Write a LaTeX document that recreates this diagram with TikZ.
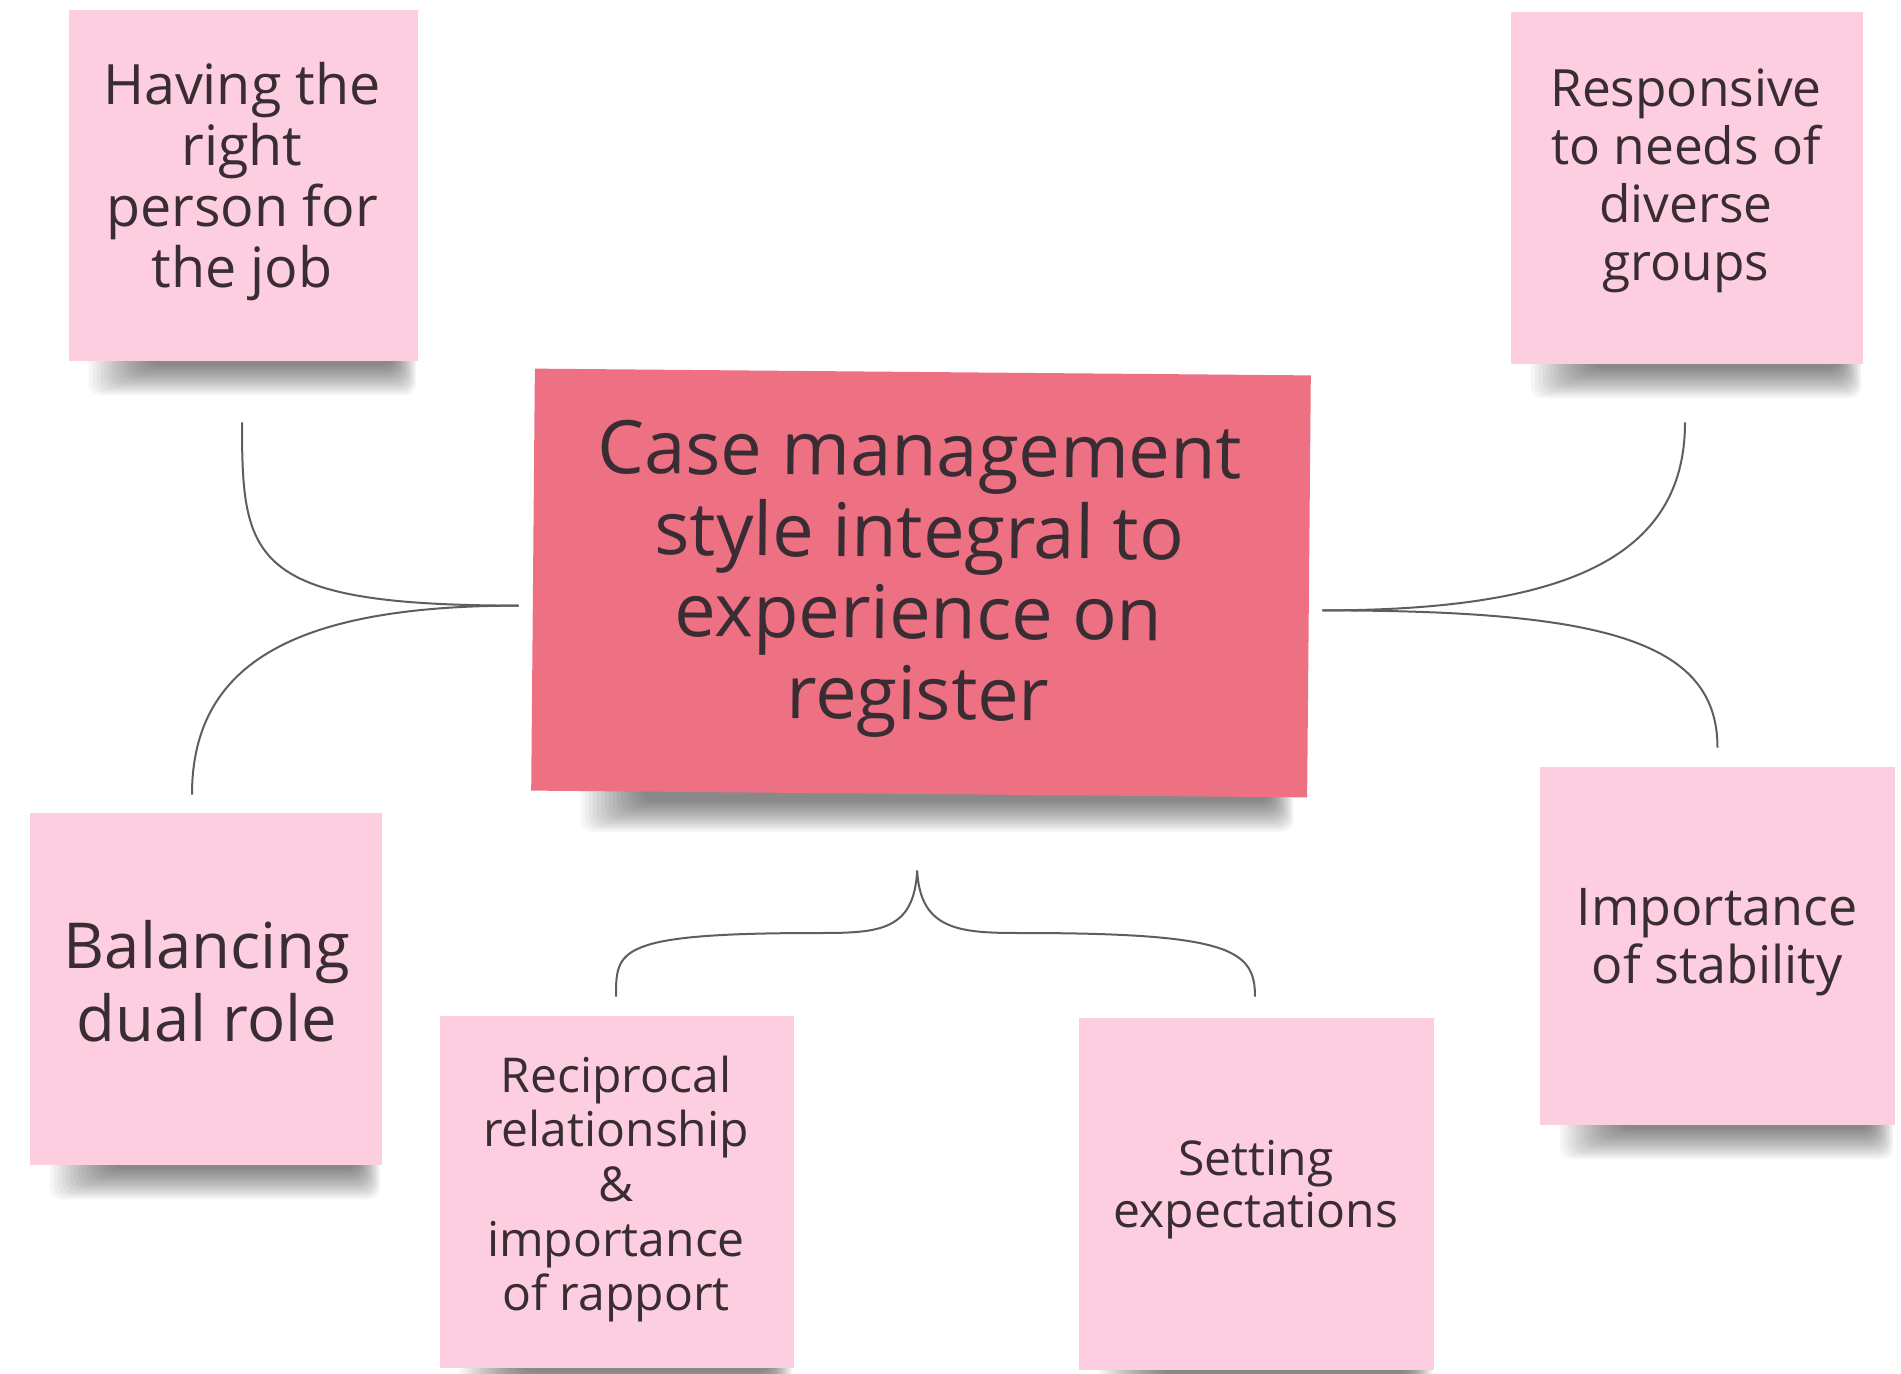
\documentclass[tikz,border=0pt]{standalone}
\usepackage{fontspec}
\setmainfont{Open Sans}
\usetikzlibrary{calc,backgrounds}
\definecolor{notepink}{HTML}{FCCEDF}
\definecolor{notered}{HTML}{EE7083}
\definecolor{ink}{HTML}{3A2C33}
\definecolor{wirecol}{HTML}{5E5E5E}
% soft lifted-paper shadow under the bottom edge of a note
\newcommand\liftshadow[3]{%
  \foreach \k in {0,...,15}{%
    \fill[black, opacity=0.035, rounded corners=6pt]
      ($(#1.south west)+(#2+4*\k,-14)$) rectangle ($(#1.south east)+(-#3-1.5*\k,34-2*\k)$);
  }}
\begin{document}
\begin{tikzpicture}[x=0.5pt,y=-0.5pt,
  note/.style={rectangle, inner sep=0pt, fill=notepink,
    minimum width=176pt, minimum height=176pt},
  mainnote/.style={note, fill=notered, minimum width=388pt, minimum height=211pt},
  words/.style={align=center, text=ink, inner sep=0pt},
  wire/.style={draw=wirecol, line width=1pt}]
\useasboundingbox (0,0) rectangle (1901,1374);

% sticky notes
\node[mainnote, rotate=-0.5] (main) at (921,583) {};
\node[note, minimum width=174.5pt, minimum height=175.5pt] (having) at (243.5,185.5) {};
\node[note] (resp) at (1687,188) {};
\node[note] (bal) at (206,989) {};
\node[note, minimum width=177pt] (recip) at (617,1192) {};
\node[note, minimum width=177.5pt] (sett) at (1256.5,1194) {};
\node[note, minimum width=177.5pt, minimum height=179pt] (stab) at (1717.5,946) {};

% paper and shadows beneath the notes
\begin{scope}[on background layer]
  \fill[white] (0,0) rectangle (1901,1374);
  \liftshadow{main}{50}{14}
  \liftshadow{having}{20}{2}
  \liftshadow{resp}{20}{2}
  \liftshadow{bal}{20}{2}
  \liftshadow{recip}{20}{2}
  \liftshadow{sett}{20}{2}
  \liftshadow{stab}{20}{2}
\end{scope}

% note texts
\node[words, font=\fontsize{37}{40.6}\selectfont, rotate=-0.5] (mainT) at (919,580)
  {Case management\\style integral to\\experience on\\register};
\node[words, font=\fontsize{27.8}{30.5}\selectfont] (havingT) at (242,182)
  {Having the\\right\\person for\\the job};
\node[words, font=\fontsize{25.7}{29}\selectfont] (respT) at (1686,181)
  {Responsive\\to needs of\\diverse\\groups};
\node[words, font=\fontsize{31.7}{36.5}\selectfont] (balT) at (207,981)
  {Balancing\\dual role};
\node[words, font=\fontsize{24}{27.3}\selectfont] (recipT) at (616,1189)
  {Reciprocal\\relationship\\\&\\importance\\of rapport};
\node[words, font=\fontsize{24}{26}\selectfont] (settT) at (1256,1190)
  {Setting\\expectations};
\node[words, font=\fontsize{26}{29}\selectfont] (stabT) at (1717,942)
  {Importance\\of stability};

% connector ends
\coordinate (mainL) at ($(main.west)+(-14,26)$);
\coordinate (mainR) at ($(main.east)+(13,24)$);
\coordinate (mainB) at ($(main.south)+(-2,76)$);
\coordinate (havingB) at ($(having.south)+(-1.5,61)$);
\coordinate (balN) at ($(bal.north)+(-14,-18)$);
\coordinate (respB) at ($(resp.south)+(-2,58)$);
\coordinate (stabN) at ($(stab.north)+(0,-19)$);
\coordinate (recipN) at ($(recip.north)+(-1,-19)$);
\coordinate (settN) at ($(sett.north)+(-1.5,-21)$);
\coordinate (braceL) at (820,933);
\coordinate (braceR) at (1020,933);

% connectors
\draw[wire] (mainL) .. controls +(-269,0) and +(0,138) .. (havingB);
\draw[wire] (mainL) .. controls +(-219,0) and +(0,-134) .. (balN);
\draw[wire] (mainR) .. controls +(238,0) and +(0,138) .. (respB);
\draw[wire] (mainR) .. controls +(278,0) and +(0,-108) .. (stabN);
\draw[wire] (recipN) .. controls +(0,-47) and +(-204,0) .. (braceL)
  .. controls +(60,0) and +(-3,60) .. (mainB)
  .. controls +(3,60) and +(-60,0) .. (braceR)
  .. controls +(210,0) and +(0,-47) .. (settN);
\end{tikzpicture}
\end{document}
